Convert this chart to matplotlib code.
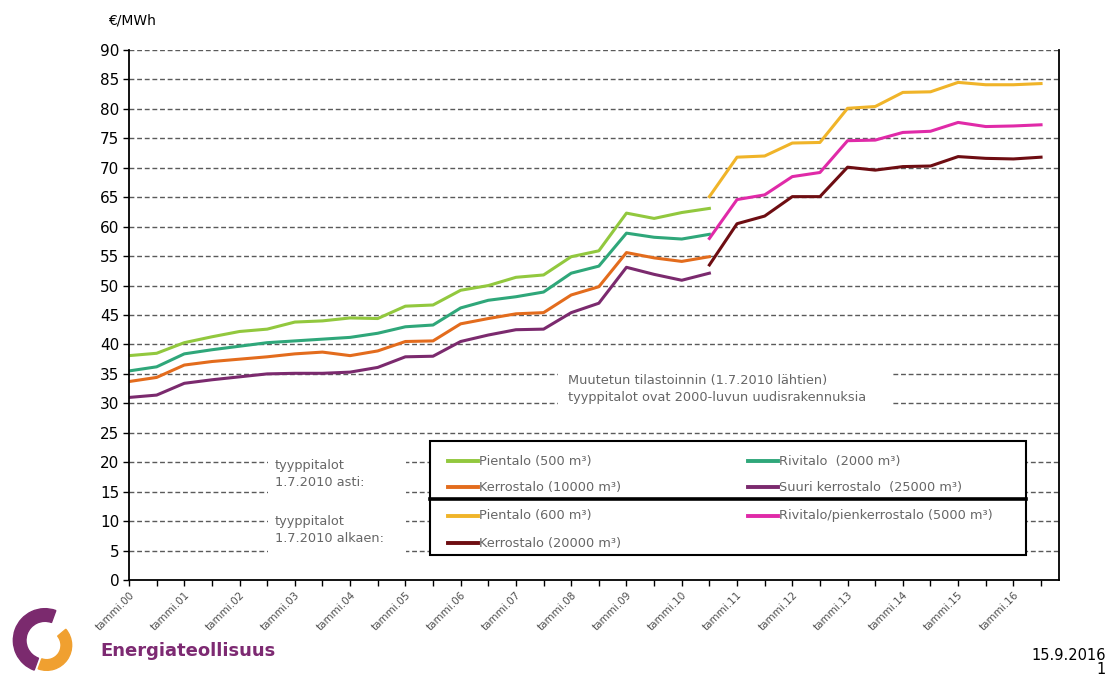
import numpy as np
import matplotlib.pyplot as plt
from matplotlib.patches import Rectangle, Wedge
from matplotlib.lines import Line2D

# Half-year periods 1.1.2000 ... 1.7.2016
periods = [f"{d}.{y}" for y in range(2000, 2017) for d in ("1.1", "1.7")]
tick_labels = ["tammi.00", "tammi.01", "tammi.02", "tammi.03", "tammi.04",
               "tammi.05", "tammi.06", "tammi.07", "tammi.08", "tammi.09",
               "tammi.10", "tammi.11", "tammi.12", "tammi.13", "tammi.14",
               "tammi.15", "tammi.16"]

# old type houses, 1.1.2000 - 1.7.2010
pientalo_500 = [38.1, 38.5, 40.3, 41.3, 42.2, 42.6, 43.8, 44.0, 44.5, 44.4, 46.5,
                46.7, 49.2, 50.0, 51.4, 51.8, 54.9, 55.9, 62.3, 61.4, 62.4, 63.1]
rivitalo_2000 = [35.5, 36.2, 38.4, 39.1, 39.7, 40.3, 40.6, 40.9, 41.2, 41.9, 43.0,
                 43.3, 46.2, 47.5, 48.1, 48.9, 52.1, 53.3, 58.9, 58.2, 57.9, 58.7]
kerrostalo_10000 = [33.7, 34.4, 36.5, 37.1, 37.5, 37.9, 38.4, 38.7, 38.1, 38.9, 40.5,
                    40.6, 43.5, 44.4, 45.2, 45.4, 48.4, 49.8, 55.6, 54.7, 54.1, 54.9]
suuri_25000 = [31.0, 31.4, 33.4, 34.0, 34.5, 35.0, 35.1, 35.1, 35.3, 36.1, 37.9,
               38.0, 40.5, 41.6, 42.5, 42.6, 45.4, 47.0, 53.1, 51.9, 50.9, 52.1]

# new type houses, 1.7.2010 onwards
pientalo_600 = [65.1, 71.8, 72.0, 74.2, 74.3, 80.1, 80.4, 82.8, 82.9, 84.5, 84.1, 84.1, 84.3]
rivitalo_5000 = [58.0, 64.6, 65.4, 68.5, 69.2, 74.6, 74.7, 76.0, 76.2, 77.7, 77.0, 77.1, 77.3]
kerrostalo_20000 = [53.5, 60.5, 61.8, 65.1, 65.1, 70.1, 69.6, 70.2, 70.3, 71.9, 71.6, 71.5, 71.8]

old_names = ["Pientalo (500 m³)", "Rivitalo  (2000 m³)",
             "Kerrostalo (10000 m³)", "Suuri kerrostalo  (25000 m³)"]
new_names = ["Pientalo (600 m³)", "Rivitalo/pienkerrostalo (5000 m³)",
             "Kerrostalo (20000 m³)"]
old_colors = ["#92c83e", "#2fa77a", "#e36c1d", "#7b2a6e"]
new_colors = ["#f0b429", "#e02aa8", "#6e0d12"]

W, H = 1115, 677
fig = plt.figure(figsize=(W / 100, H / 100), dpi=100)
fig.patch.set_facecolor("white")

# plot area in pixels
L, R, T, B = 129, 1059, 50, 580
ax = fig.add_axes([L / W, 1 - B / H, (R - L) / W, (B - T) / H])

def axc(px, py):
    # pixel -> axes fraction
    return (px - L) / (R - L), (B - py) / (B - T)

x = np.arange(len(periods))
x_old = x[:len(pientalo_500)]
x_new = x[len(pientalo_500) - 1:]

for vals, c in zip([pientalo_500, rivitalo_2000, kerrostalo_10000, suuri_25000], old_colors):
    ax.plot(x_old, vals, color=c, lw=2.2, solid_joinstyle="round", zorder=2)
for vals, c in zip([pientalo_600, rivitalo_5000, kerrostalo_20000], new_colors):
    ax.plot(x_new, vals, color=c, lw=2.2, solid_joinstyle="round", zorder=2)

ax.set_xlim(0, 33.65)
ax.set_ylim(0, 90)
ax.set_yticks(np.arange(0, 91, 5))
ax.tick_params(axis="y", labelsize=11, length=4, width=1, direction="out", pad=3)
ax.set_xticks(x[::2], tick_labels)
ax.set_xticks(x[1::2], minor=True)
ax.tick_params(axis="x", which="both", length=4, width=1, direction="out",
               labelsize=7.5, labelcolor="#505050", pad=3)
for lab in ax.get_xticklabels():
    lab.set_rotation(45)
    lab.set_ha("right")
    lab.set_rotation_mode("anchor")

for yv in np.arange(5, 91, 5):
    ax.axhline(yv, color="#5a5a5a", lw=1, ls=(0, (3.5, 2)), zorder=0.5)

ax.spines["top"].set_visible(False)
for s in ["left", "bottom", "right"]:
    ax.spines[s].set_color("black")
    ax.spines[s].set_linewidth(1.3)

fig.text(108 / W, 1 - 20 / H, "€/MWh", fontsize=10, va="center", ha="left")

note_fs = 9.3
note_col = "#666666"

# note about changed statistics
x0, y0 = axc(558, 407)
x1, y1 = axc(893, 371)
ax.add_patch(Rectangle((x0, y0), x1 - x0, y1 - y0, transform=ax.transAxes,
                       facecolor="white", edgecolor="none", zorder=1))
ax.text(*axc(568, 381), "Muutetun tilastoinnin (1.7.2010 lähtien)",
        transform=ax.transAxes, fontsize=note_fs, color=note_col, va="center", zorder=3)
ax.text(*axc(568, 397), "tyyppitalot ovat 2000-luvun uudisrakennuksia",
        transform=ax.transAxes, fontsize=note_fs, color=note_col, va="center", zorder=3)

# group labels left of the legend
for top, bot, l1, l2 in [(455, 495, "tyyppitalot", "1.7.2010 asti:"),
                         (510, 553, "tyyppitalot", "1.7.2010 alkaen:")]:
    x0, y0 = axc(268, bot)
    x1, y1 = axc(406, top)
    ax.add_patch(Rectangle((x0, y0), x1 - x0, y1 - y0, transform=ax.transAxes,
                           facecolor="white", edgecolor="none", zorder=1))
    ax.text(*axc(275, top + 11), l1, transform=ax.transAxes, fontsize=note_fs,
            color=note_col, va="center", zorder=3)
    ax.text(*axc(275, top + 28), l2, transform=ax.transAxes, fontsize=note_fs,
            color=note_col, va="center", zorder=3)

# legend box
x0, y0 = axc(430, 555)
x1, y1 = axc(1026, 441)
ax.add_patch(Rectangle((x0, y0), x1 - x0, y1 - y0, transform=ax.transAxes,
                       facecolor="white", edgecolor="black", lw=1.5, zorder=4))
xa, ya = axc(430, 499)
xb, _ = axc(1026, 499)
ax.add_line(Line2D([xa, xb], [ya, ya], transform=ax.transAxes, color="black",
                   lw=2.6, zorder=5))

entries = [(old_names[0], old_colors[0], 448, 461), (old_names[1], old_colors[1], 748, 461),
           (old_names[2], old_colors[2], 448, 487), (old_names[3], old_colors[3], 748, 487),
           (new_names[0], new_colors[0], 448, 516), (new_names[1], new_colors[1], 748, 516),
           (new_names[2], new_colors[2], 448, 543)]
for name, c, px, py in entries:
    xa, ya = axc(px, py)
    xb, _ = axc(px + 30, py)
    ax.add_line(Line2D([xa, xb], [ya, ya], transform=ax.transAxes, color=c,
                       lw=2.8, zorder=5))
    ax.text(*axc(px + 31, py), name, transform=ax.transAxes, fontsize=note_fs,
            color=note_col, va="center", ha="left", zorder=5)

# company logo and footer
lax = fig.add_axes([5 / W, 1 - 677 / H, 80 / W, 70 / H])
lax.set_xlim(-1.2, 1.2)
lax.set_ylim(-1.05, 1.05)
lax.set_aspect("equal")
lax.axis("off")
lax.add_patch(Wedge((0, 0.05), 0.95, 70, 250, width=0.38, color="#7b2a6e"))
lax.add_patch(Wedge((0.05, -0.1), 0.75, 250, 400, width=0.32, color="#f0a030"))

fig.text(100 / W, 1 - 651 / H, "Energiateollisuus", fontsize=13, fontweight="bold",
         color="#7d2a72", va="center", ha="left")
fig.text(1106 / W, 1 - 655 / H, "15.9.2016", fontsize=10.5, va="center", ha="right")
fig.text(1106 / W, 1 - 670 / H, "1", fontsize=10.5, va="center", ha="right")

fig.savefig("out.png", dpi=100)
